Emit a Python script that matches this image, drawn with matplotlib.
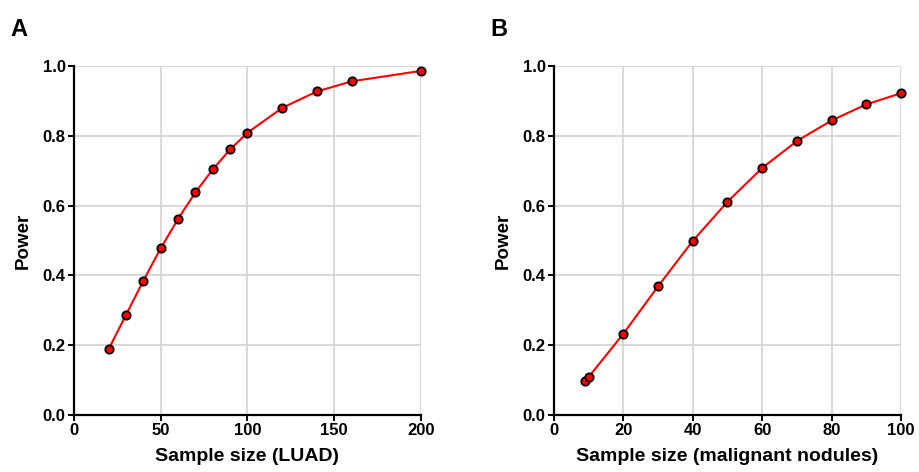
import matplotlib
matplotlib.use("Agg")
import matplotlib.pyplot as plt

plt.rcParams['font.family'] = ['Liberation Sans', 'DejaVu Sans']

luad_n = [20, 30, 40, 50, 60, 70, 80, 90, 100, 120, 140, 160, 200]
luad_power = [0.189, 0.287, 0.385, 0.478, 0.562, 0.638, 0.704, 0.761, 0.809, 0.880, 0.927, 0.956, 0.986]

nod_n = [9, 10, 20, 30, 40, 50, 60, 70, 80, 90, 100]
nod_power = [0.098, 0.109, 0.233, 0.369, 0.499, 0.611, 0.708, 0.785, 0.844, 0.890, 0.922]

panels = [
    ("A", luad_n, luad_power, "Sample size (LUAD)", [0, 50, 100, 150, 200], 200),
    ("B", nod_n, nod_power, "Sample size (malignant nodules)", [0, 20, 40, 60, 80, 100], 100),
]
yticks = [0.0, 0.2, 0.4, 0.6, 0.8, 1.0]

fig = plt.figure(figsize=(9.2, 4.72), dpi=100)
lefts = [74 / 920, 554 / 920]
w = 347 / 920
b = 1 - 415 / 472
h = 349 / 472

for (letter, xs, ys, xlabel, xt, xmax), L in zip(panels, lefts):
    ax = fig.add_axes([L, b, w, h])
    ax.plot(xs, ys, color='#ff0000', lw=1.5, marker='o', markersize=6,
            markerfacecolor='#ff0000', markeredgecolor='black', markeredgewidth=1.3,
            zorder=3, clip_on=False)
    ax.set_xlim(0, xmax)
    ax.set_ylim(0, 1.0)
    ax.set_xticks(xt)
    ax.set_yticks(yticks)
    ax.set_yticklabels([f"{v:.1f}" for v in yticks])
    ax.grid(True, color='#d3d3d3', lw=1.2)
    ax.set_axisbelow(True)
    for s in ['top', 'right']:
        ax.spines[s].set_visible(False)
    for s in ['left', 'bottom']:
        ax.spines[s].set_linewidth(1.6)
        ax.spines[s].set_color('black')
    ax.tick_params(axis='both', length=4, width=1.4, labelsize=12, pad=2)
    for t in ax.get_xticklabels() + ax.get_yticklabels():
        t.set_fontweight('bold')
    ax.set_xlabel(xlabel, fontsize=14, fontweight='bold', labelpad=7)
    ax.set_ylabel("Power", fontsize=13.5, fontweight='bold', labelpad=8)
    fig.text(L - 64 / 920, 1 - 30 / 472, letter, fontsize=17, fontweight='bold',
             ha='left', va='center')

fig.savefig("out.png", dpi=100)
